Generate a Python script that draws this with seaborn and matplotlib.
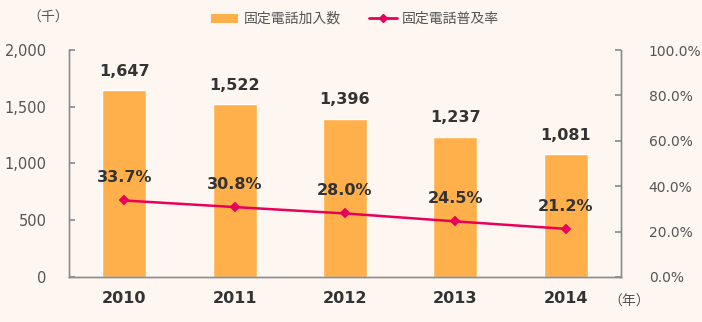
import matplotlib
matplotlib.use("Agg")
import matplotlib.pyplot as plt
import seaborn as sns
import pandas as pd
from matplotlib.ticker import FuncFormatter, FixedLocator
from matplotlib.patches import Patch
from matplotlib.lines import Line2D

years = ["2010", "2011", "2012", "2013", "2014"]
subscribers = [1647, 1522, 1396, 1237, 1081]
penetration = [33.7, 30.8, 28.0, 24.5, 21.2]
bar_name = "固定電話加入数"
line_name = "固定電話普及率"

sns.set_theme(style="white")
plt.rcParams["font.family"] = ["DejaVu Sans", "Noto Sans CJK JP"]

BG = "#FDF6F1"
BAR = "#FFB04A"
LINE = "#E8005A"
SPINE = "#8C8C8C"
TXT = "#333333"
TICK = "#555555"

df = pd.DataFrame({"year": years, "subs": subscribers, "rate": penetration})

fig = plt.figure(figsize=(7.02, 3.22), dpi=100, facecolor=BG)
ax = fig.add_axes([0.0983, 0.1398, 0.7863, 0.7049])
ax.set_facecolor(BG)
sns.barplot(data=df, x="year", y="subs", color=BAR, width=0.4, saturation=1, ax=ax, zorder=2)
ax.set_ylim(0, 2000)
ax.set_xlim(-0.5, len(years) - 0.5)
ax.set_yticks([0, 500, 1000, 1500, 2000])
ax.yaxis.set_major_formatter(FuncFormatter(lambda v, p: f"{int(v):,}"))
ax.set_xlabel("")
ax.set_ylabel("")

ax2 = ax.twinx()
sns.pointplot(data=df, x="year", y="rate", color=LINE, markers="D", markersize=4,
              linewidth=1.8, ax=ax2, zorder=3)
ax2.set_ylim(0, 100)
ax2.set_xlim(-0.5, len(years) - 0.5)
ax2.set_yticks([0, 20, 40, 60, 80, 100])
ax2.yaxis.set_major_formatter(FuncFormatter(lambda v, p: f"{v:.1f}%"))
ax2.set_ylabel("")
ax2.set_xlabel("")

for a in (ax, ax2):
    for s in a.spines.values():
        s.set_color(SPINE)
        s.set_linewidth(1.0)
    a.spines["top"].set_visible(False)

ax.tick_params(axis="y", direction="in", length=4, color=SPINE, pad=16, labelsize=10.5, labelcolor=TICK)
ax2.tick_params(axis="y", direction="in", length=4, color=SPINE, pad=20, labelsize=10, labelcolor=TICK)
ax.tick_params(axis="x", which="major", length=0, pad=10, labelsize=11.5, labelcolor=TXT)
for lbl in ax.get_xticklabels():
    lbl.set_fontweight("bold")
ax.xaxis.set_minor_locator(FixedLocator([i - 0.5 for i in range(len(years) + 1)]))
ax.tick_params(axis="x", which="minor", direction="out", length=6, color=SPINE, width=1)
ax2.tick_params(axis="x", which="both", length=0)

for i, (v, r) in enumerate(zip(subscribers, penetration)):
    ax.annotate(f"{v:,}", (i, v), xytext=(0, 8), textcoords="offset points",
                ha="center", va="bottom", fontsize=11.5, fontweight="bold", color=TXT)
    ax2.annotate(f"{r:.1f}%", (i, r), xytext=(0, 11), textcoords="offset points",
                 ha="center", va="bottom", fontsize=11.5, fontweight="bold", color=TXT)

fig.text(48 / 702, 1 - 18 / 322, "（千）", ha="center", va="center", fontsize=10, color=TICK,
         family=["Noto Sans CJK JP", "DejaVu Sans"])
fig.text(629 / 702, 1 - 302 / 322, "（年）", ha="center", va="center", fontsize=10, color=TICK,
         family=["Noto Sans CJK JP", "DejaVu Sans"])

handles = [Patch(facecolor=BAR, edgecolor="none"),
           Line2D([], [], color=LINE, marker="D", markersize=4, linewidth=2)]
leg = fig.legend(handles, [bar_name, line_name], loc="center", ncol=2,
                 bbox_to_anchor=(355 / 702, 1 - 19 / 322), frameon=False,
                 prop={"family": ["Noto Sans CJK JP", "DejaVu Sans"], "size": 10},
                 handlelength=2.0, handleheight=0.6, columnspacing=2.0, handletextpad=0.4)
for t in leg.get_texts():
    t.set_color(TICK)

fig.savefig("out.png", dpi=100, facecolor=BG)
